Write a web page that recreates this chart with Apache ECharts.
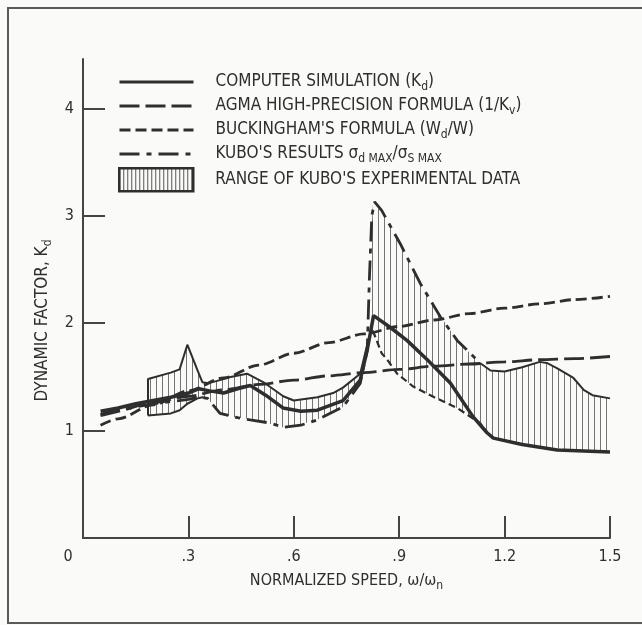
<!DOCTYPE html>
<html><head><meta charset="utf-8">
<script src="https://cdn.jsdelivr.net/npm/echarts@6/dist/echarts.min.js"></script>
<style>
html,body{margin:0;padding:0;background:#fafaf8;overflow:hidden;width:642px;height:625px;}
#frame{position:absolute;left:7px;top:7px;width:700px;height:617px;border:2px solid #5a5a5a;box-sizing:border-box;}
#chart{position:absolute;left:0;top:0;width:642px;height:625px;}
</style></head><body>
<div id="frame"></div><div id="chart"></div>
<script>
// ---- axis ticks / labels ----
const xTickValues = [0.3, 0.6, 0.9, 1.2, 1.5];
const xLabelValues = [0, 0.3, 0.6, 0.9, 1.2, 1.5];
const yTickValues = [1, 2, 3, 4];

// ---- range of Kubo's experimental data (hatched band) ----
const bandX  = [0.185,0.25,0.275,0.297,0.326,0.34,0.355,0.39,0.42,0.467,0.514,0.57,0.6,0.667,0.712,0.74,0.789,0.809,0.815,0.825,0.85,0.866,0.894,0.94,1.0,1.065,1.13,1.16,1.2,1.25,1.3,1.32,1.35,1.396,1.425,1.45,1.5];
const bandLo = [1.14,1.16,1.19,1.25,1.30,1.31,1.30,1.16,1.13,1.11,1.08,1.03,1.04,1.10,1.17,1.22,1.44,1.72,1.85,1.93,1.72,1.66,1.53,1.41,1.31,1.21,1.07,0.94,0.90,0.87,0.85,0.84,0.82,0.815,0.81,0.805,0.80];
const bandHi = [1.48,1.54,1.57,1.80,1.56,1.45,1.44,1.47,1.50,1.53,1.45,1.32,1.28,1.31,1.35,1.40,1.53,1.80,2.5,3.10,3.05,2.95,2.79,2.50,2.15,1.84,1.63,1.56,1.55,1.59,1.64,1.63,1.58,1.49,1.38,1.33,1.30];

// ---- computer simulation (Kd) ----
const csX = [0.05,0.1,0.15,0.2,0.25,0.3,0.33,0.36,0.4,0.44,0.476,0.52,0.57,0.62,0.667,0.74,0.789,0.809,0.827,0.875,0.922,0.98,1.046,1.11,1.15,1.168,1.25,1.35,1.5];
const csY = [1.18,1.21,1.25,1.28,1.31,1.35,1.39,1.37,1.35,1.39,1.42,1.33,1.21,1.18,1.19,1.28,1.47,1.75,2.07,1.96,1.84,1.66,1.44,1.13,0.98,0.93,0.87,0.82,0.80];

// ---- Kubo's results ----
const kuboX = [0.05,0.1,0.15,0.2,0.25,0.3,0.33,0.355,0.39,0.44,0.476,0.533,0.57,0.62,0.667,0.74,0.789,0.809,0.815,0.822,0.83,0.85,0.903,0.96,1.017,1.065,1.13];
const kuboY = [1.14,1.18,1.22,1.25,1.27,1.29,1.31,1.30,1.16,1.12,1.10,1.07,1.03,1.05,1.10,1.22,1.44,1.75,2.4,3.0,3.13,3.05,2.74,2.37,2.06,1.84,1.63];

// ---- AGMA and Buckingham formulas ----
const formX = [0.05,0.1,0.2,0.3,0.4,0.5,0.6,0.7,0.8,0.9,1.0,1.1,1.2,1.3,1.4,1.5];
const agmaY = [1.15,1.19,1.26,1.32,1.38,1.43,1.47,1.51,1.54,1.57,1.60,1.62,1.64,1.66,1.67,1.69];
const buckY = [1.05,1.11,1.24,1.37,1.49,1.61,1.72,1.82,1.90,1.97,2.03,2.09,2.14,2.18,2.22,2.25];

const names = {
  cs: 'COMPUTER SIMULATION (Kd)',
  agma: 'AGMA HIGH-PRECISION FORMULA (1/Kv)',
  buck: "BUCKINGHAM'S FORMULA (Wd/W)",
  kubo: "KUBO'S RESULTS",
  band: "RANGE OF KUBO'S EXPERIMENTAL DATA"
};
const richNames = {};
richNames[names.cs] = '{n|COMPUTER SIMULATION (K}{s|d}{n|)}';
richNames[names.agma] = '{n|AGMA HIGH-PRECISION FORMULA (1/K}{s|v}{n|)}';
richNames[names.buck] = "{n|BUCKINGHAM'S FORMULA (W}{s|d}{n|/W)}";
richNames[names.kubo] = "{n|KUBO'S RESULTS \u03c3}{s|d MAX}{n|/\u03c3}{s|S MAX}";
richNames[names.band] = "{n|RANGE OF KUBO'S EXPERIMENTAL DATA}";

const FONT = "'Liberation Sans Narrow','DejaVu Sans Condensed','Roboto Condensed','Liberation Sans',sans-serif";
const INK = '#2e2e2e';
const BG = '#fafaf8';
const FS = 17;

function zip(xs, ys) { return xs.map((x, i) => [x, ys[i]]); }

function makeHatch(step, color) {
  const c = document.createElement('canvas');
  c.width = step; c.height = 8;
  const g = c.getContext('2d');
  g.fillStyle = color;
  g.fillRect(0, 0, 1, 8);
  return { image: c, repeat: 'repeat' };
}
const hatch = makeHatch(6, '#747474');
const hatchLegend = makeHatch(4, '#555555');

const iUpL = bandX.indexOf(0.809);
const iUpR = bandX.indexOf(1.13);
const iLoL = bandX.indexOf(0.355);
const iLoM0 = bandX.indexOf(0.825);
const iLoM1 = bandX.indexOf(1.16);

const upperLeft = [[bandX[0], bandLo[0]]].concat(zip(bandX, bandHi).slice(0, iUpL + 1));
const upperRight = zip(bandX, bandHi).slice(iUpR);
const lowerLeft = zip(bandX, bandLo).slice(0, iLoL + 1);
const lowerMid = zip(bandX, bandLo).slice(iLoM0, iLoM1 + 1);

function rich(fs) {
  return {
    n: { fontFamily: FONT, fontSize: fs, color: INK, lineHeight: 20 },
    s: { fontFamily: FONT, fontSize: Math.round(fs * 0.72), color: INK, lineHeight: 10, padding: [10, 0, 0, 0] }
  };
}

const plainLine = (data, width, type, z) => ({
  type: 'line', data, symbol: 'none', silent: true, z: z || 3,
  lineStyle: { color: INK, width, type: type || 'solid' }
});

const legendText = { fontFamily: FONT, fontSize: FS, color: INK, padding: [0, 0, 0, 17], rich: rich(FS) };

const chart = echarts.init(document.getElementById('chart'), null, { renderer: 'canvas' });
chart.setOption({
  animation: false,
  backgroundColor: 'transparent',
  grid: { left: 83, right: 32, top: 59, bottom: 87, containLabel: false },
  xAxis: {
    type: 'value', min: 0, max: 1.5, z: 10,
    name: '{n|NORMALIZED SPEED, \u03c9/\u03c9}{s|n}',
    nameLocation: 'middle', nameGap: 31,
    nameTextStyle: { fontFamily: FONT, fontSize: 16, color: INK, rich: rich(16) },
    axisLine: { lineStyle: { color: '#444', width: 2 } },
    axisTick: { show: true, inside: true, length: 22, customValues: xTickValues, lineStyle: { color: '#444', width: 2 } },
    axisLabel: {
      customValues: xLabelValues, margin: 11, fontFamily: FONT, fontSize: 16, color: INK,
      formatter: v => v === 0 ? '{z|0}' : String(v).replace(/^0/, ''),
      rich: { z: { fontFamily: FONT, fontSize: 16, color: INK, padding: [0, 30, 0, 0] } }
    },
    splitLine: { show: false }
  },
  yAxis: {
    type: 'value', min: 0, max: 4.46, z: 10,
    name: '{n|DYNAMIC FACTOR, K}{s|d}',
    nameLocation: 'middle', nameGap: 30,
    nameTextStyle: { fontFamily: FONT, fontSize: 17, color: INK, rich: rich(17), padding: [0, 44, 0, 0] },
    axisLine: { lineStyle: { color: '#444', width: 2 } },
    axisTick: { show: true, inside: true, length: 22, customValues: yTickValues, lineStyle: { color: '#444', width: 2 } },
    axisLabel: { customValues: yTickValues, margin: 9, fontFamily: FONT, fontSize: 16, color: INK },
    splitLine: { show: false }
  },
  legend: [
    {
      orient: 'vertical', left: 118, top: 71, padding: 0, itemWidth: 74, itemHeight: 14, itemGap: 2,
      selectedMode: false, itemStyle: { opacity: 0 }, lineStyle: { width: 3 },
      data: [names.cs, names.agma, names.buck, names.kubo],
      formatter: n => richNames[n],
      textStyle: legendText
    },
    {
      orient: 'vertical', left: 118, top: 167, padding: 0, itemWidth: 74, itemHeight: 23, itemGap: 0,
      selectedMode: false,
      data: [{ name: names.band, icon: 'rect', itemStyle: { color: hatchLegend, borderColor: INK, borderWidth: 2.5 } }],
      formatter: n => richNames[n],
      textStyle: legendText
    }
  ],
  series: [
    { type: 'line', name: names.band, data: zip(bandX, bandHi), symbol: 'none', silent: true, z: 1, color: INK,
      lineStyle: { width: 0, opacity: 0 }, areaStyle: { color: hatch, opacity: 1 } },
    { type: 'line', name: 'bandCover', data: zip(bandX, bandLo), symbol: 'none', silent: true, z: 2,
      lineStyle: { width: 0, opacity: 0 }, areaStyle: { color: BG, opacity: 1 } },
    plainLine(upperLeft, 2),
    plainLine(upperRight, 2),
    plainLine(lowerLeft, 2),
    plainLine(lowerMid, 2.2, [7, 4]),
    { type: 'line', name: names.buck, data: zip(formX, buckY), symbol: 'none', smooth: 0.3, smoothMonotone: 'x', z: 4, color: INK,
      lineStyle: { color: INK, width: 2.8, type: [11, 5] } },
    { type: 'line', name: names.agma, data: zip(formX, agmaY), symbol: 'none', smooth: 0.3, smoothMonotone: 'x', z: 4, color: INK,
      lineStyle: { color: INK, width: 2.8, type: [20, 6] } },
    { type: 'line', name: names.kubo, data: zip(kuboX, kuboY), symbol: 'none', z: 5, color: INK,
      lineStyle: { color: INK, width: 2.8, type: [20, 7, 5, 7] } },
    { type: 'line', name: names.cs, data: zip(csX, csY), symbol: 'none', z: 6, color: INK,
      lineStyle: { color: INK, width: 3.5 } }
  ]
});
</script>
</body></html>
